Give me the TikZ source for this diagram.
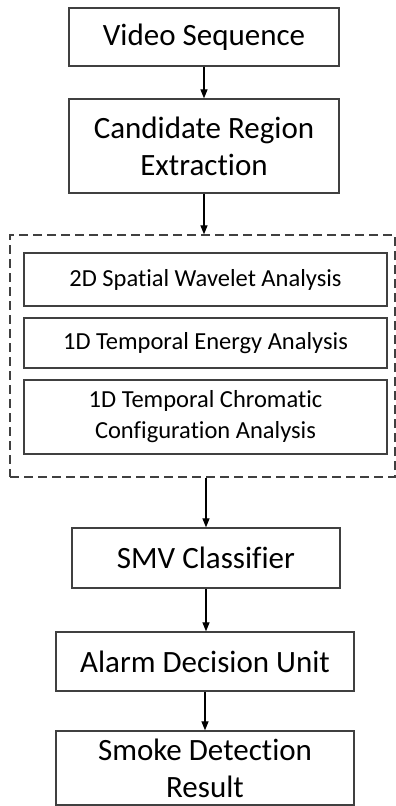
\documentclass[tikz,border=0pt]{standalone}
\usepackage{fontspec}
\setmainfont[Ligatures=NoCommon]{Carlito}
\usetikzlibrary{arrows.meta}

\tikzset{
  stagebox/.style={draw=black!75,line width=1.3pt,inner sep=0pt,align=center,
    font=\fontsize{31}{37}\selectfont},
  featbox/.style={draw=black!75,line width=1.3pt,inner sep=0pt,align=center,
    font=\fontsize{24.5}{31}\selectfont},
  flow/.style={line width=1.2pt,-{Triangle[length=9pt,width=7pt]}}
}

\begin{document}
\begin{tikzpicture}[x=1pt,y=-1pt]
\path[use as bounding box] (0,0) rectangle (396,806);
% main stages
\node[stagebox,minimum width=270pt,minimum height=58pt] (video) at (204,37) {Video Sequence};
\node[stagebox,minimum width=270pt,minimum height=94pt] (cand) at (204,146) {Candidate Region\\Extraction};
% feature group
\node[draw=black!75,line width=1.3pt,dash pattern=on 9pt off 5pt,inner sep=0pt,
  minimum width=385pt,minimum height=242pt] (group) at (202.5,356) {};
\node[featbox,minimum width=363pt,minimum height=53pt] (spatial) at (205.5,279.5) {2D Spatial Wavelet Analysis};
\node[featbox,minimum width=363pt,minimum height=50pt] (energy) at (205.5,343) {1D Temporal Energy Analysis};
\node[featbox,minimum width=363pt,minimum height=74pt] (chroma) at (205.5,417) {1D Temporal Chromatic\\Configuration Analysis};
% classification
\node[stagebox,minimum width=268pt,minimum height=60pt] (smv) at (206,558) {SMV Classifier};
\node[stagebox,minimum width=298pt,minimum height=59pt] (alarm) at (205,661.5) {Alarm Decision Unit};
\node[stagebox,minimum width=298pt,minimum height=74pt] (smoke) at (205,768) {Smoke Detection\\Result};
% arrows
\draw[flow] (video) -- (cand);
\draw[flow] (cand.south) -- (cand.south |- group.north);
\draw[flow] (smv.north |- group.south) -- (smv);
\draw[flow] (smv) -- (smv.south |- alarm.north);
\draw[flow] (alarm) -- (smoke);
\end{tikzpicture}
\end{document}
